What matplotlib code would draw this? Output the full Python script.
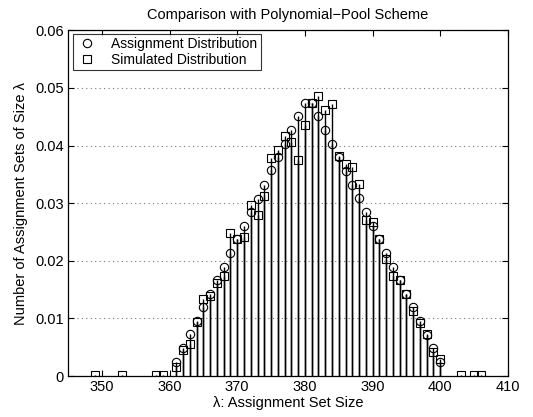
import numpy as np
import matplotlib
matplotlib.use("Agg")
import matplotlib.pyplot as plt
from matplotlib.lines import Line2D

plt.rcParams['font.family'] = ['Liberation Sans', 'DejaVu Sans']

# assignment distribution (circles)
assign_x = list(range(361, 401))
assign_y = [0.0025, 0.0048, 0.0073, 0.0095, 0.0120, 0.0143, 0.0167, 0.0190,
            0.0214, 0.0237, 0.0261, 0.0284, 0.0308, 0.0332, 0.0357, 0.0380,
            0.0403, 0.0427, 0.0451, 0.0474, 0.0474, 0.0451, 0.0427, 0.0403,
            0.0380, 0.0356, 0.0332, 0.0309, 0.0285, 0.0261, 0.0238, 0.0214,
            0.0190, 0.0167, 0.0143, 0.0119, 0.0095, 0.0072, 0.0049, 0.0025]

# simulated distribution (squares)
sim_x = [349, 353, 358, 359] + list(range(361, 401)) + [403, 405, 406]
sim_y = [0.0001, 0.0001, 0.0001, 0.0001,
         0.0016, 0.0046, 0.0056, 0.0093, 0.0134, 0.0138, 0.0161, 0.0174,
         0.0249, 0.0238, 0.0241, 0.0296, 0.0280, 0.0313, 0.0379, 0.0393,
         0.0416, 0.0406, 0.0375, 0.0435, 0.0474, 0.0486, 0.0462, 0.0472,
         0.0382, 0.0368, 0.0363, 0.0333, 0.0270, 0.0267, 0.0238, 0.0203,
         0.0173, 0.0166, 0.0143, 0.0112, 0.0092, 0.0073, 0.0041, 0.0029,
         0.0001, 0.0001, 0.0001]

xticks = [350, 360, 370, 380, 390, 400, 410]
yticks = [0, 0.01, 0.02, 0.03, 0.04, 0.05, 0.06]
ytick_labels = ['0', '0.01', '0.02', '0.03', '0.04', '0.05', '0.06']

fig = plt.figure(figsize=(5.33, 4.17), dpi=100)
ax = fig.add_axes([0.1276, 0.0983, 0.8254, 0.829])

m1, s1, b1 = ax.stem(assign_x, assign_y, linefmt='k-', markerfmt='ko', basefmt=' ')
m2, s2, b2 = ax.stem(sim_x, sim_y, linefmt='k-', markerfmt='ks', basefmt=' ')
for m, ms in ((m1, 6.0), (m2, 5.3)):
    m.set_markerfacecolor('none')
    m.set_markeredgecolor('black')
    m.set_markersize(ms)
    m.set_markeredgewidth(0.8)
for s in (s1, s2):
    s.set_linewidth(1.0)

ax.set_xlim(345, 410)
ax.set_ylim(0, 0.06)
ax.set_xticks(xticks)
ax.set_yticks(yticks)
ax.set_yticklabels(ytick_labels)
ax.tick_params(direction='in', top=True, right=True, labelsize=10.5, length=4, width=0.8, pad=3)
ax.yaxis.grid(True, linestyle=(0, (1, 3)), color='#777777', linewidth=0.8)
ax.set_axisbelow(True)
for sp in ax.spines.values():
    sp.set_linewidth(0.9)

ax.set_title('Comparison with Polynomial\u2212Pool Scheme', fontsize=10.5, pad=8)
ax.set_xlabel('\u03bb: Assignment Set Size', fontsize=10.5, labelpad=1)
ax.set_ylabel('Number of Assignment Sets of Size \u03bb', fontsize=10.5, labelpad=5)

handles = [Line2D([], [], linestyle='none', marker='o', markersize=6.0,
                  markerfacecolor='none', markeredgecolor='black', markeredgewidth=0.8),
           Line2D([], [], linestyle='none', marker='s', markersize=5.3,
                  markerfacecolor='none', markeredgecolor='black', markeredgewidth=0.8)]
leg = ax.legend(handles, ['Assignment Distribution', 'Simulated Distribution'],
                loc='upper left', bbox_to_anchor=(0.011, 0.99), borderaxespad=0,
                fontsize=10, frameon=True, fancybox=False, edgecolor='black',
                handlelength=1.6, handletextpad=0.9, borderpad=0.25, labelspacing=0.1)
leg.get_frame().set_linewidth(0.8)

fig.savefig('out.png', dpi=100)
